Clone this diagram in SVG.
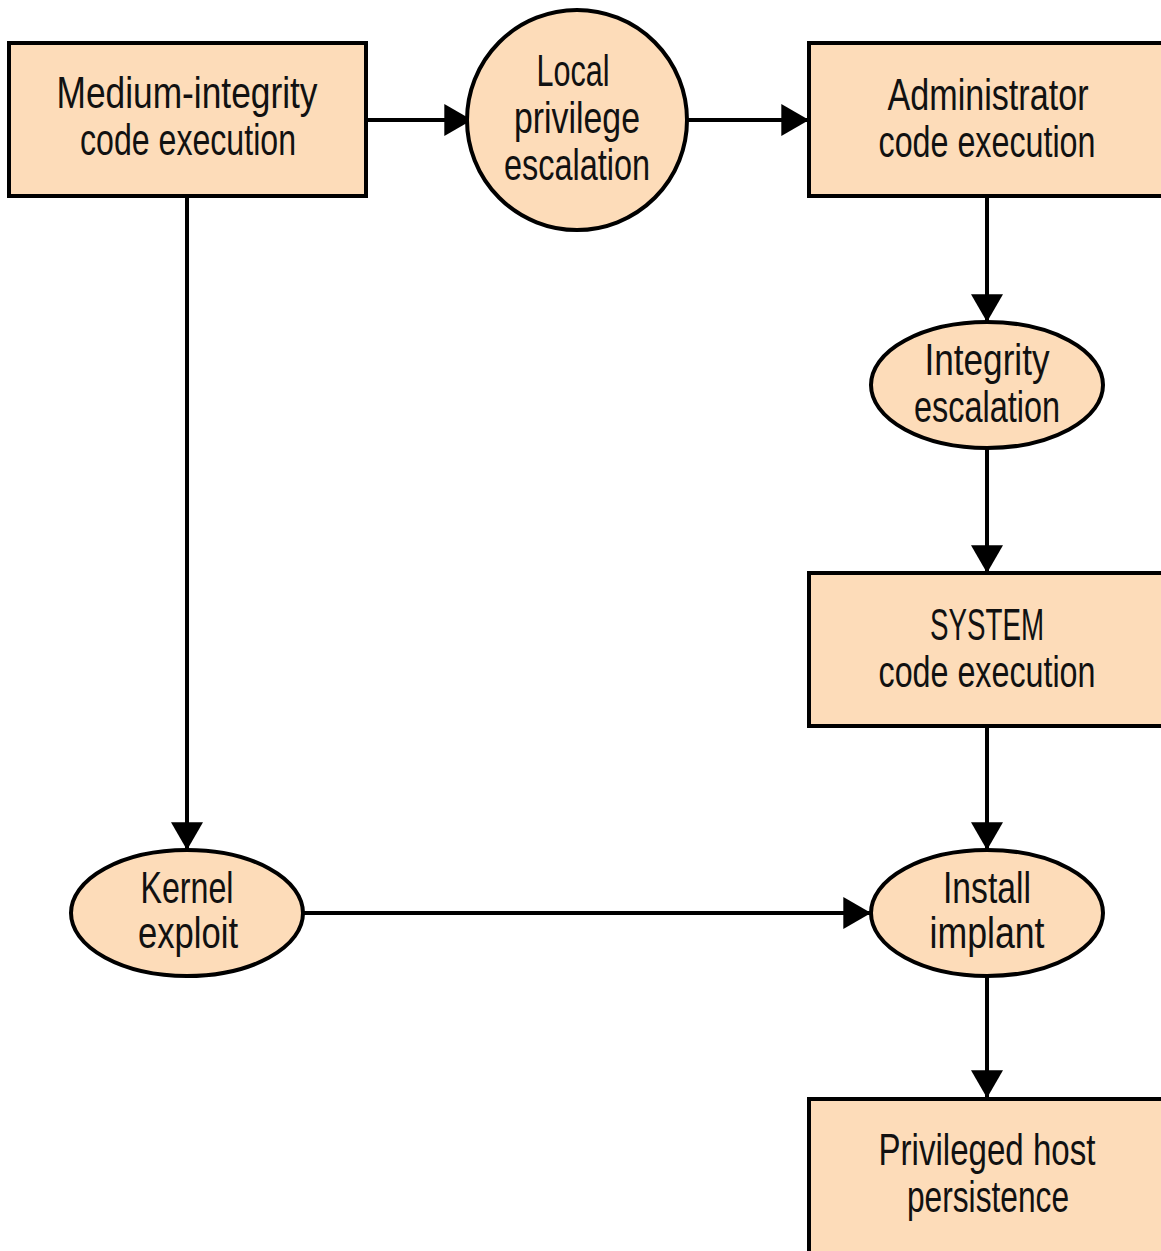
<svg xmlns="http://www.w3.org/2000/svg" width="1161" height="1251" viewBox="0 0 1161 1251">
<style>
.n{fill:#fddcb9;stroke:#000;stroke-width:4}
.t{font-family:"Liberation Sans",Arial,sans-serif;font-size:44px;fill:#111;text-anchor:middle}
.c{stroke:#000;stroke-width:4;fill:none}
</style>
<defs>
<marker id="ah" markerUnits="userSpaceOnUse" markerWidth="30" markerHeight="32" viewBox="0 0 26 30" refX="25" refY="15" orient="auto">
<path d="M0,0 L26,15 L0,30 Z" fill="#000"/>
</marker>
</defs>
<g id="connectors">
<line class="c" x1="366" y1="120" x2="471" y2="120" marker-end="url(#ah)"/>
<line class="c" x1="688" y1="120" x2="808" y2="120" marker-end="url(#ah)"/>
<line class="c" x1="987" y1="196" x2="987" y2="321" marker-end="url(#ah)"/>
<line class="c" x1="987" y1="448" x2="987" y2="572" marker-end="url(#ah)"/>
<line class="c" x1="987" y1="726" x2="987" y2="849" marker-end="url(#ah)"/>
<line class="c" x1="187" y1="196" x2="187" y2="849" marker-end="url(#ah)"/>
<line class="c" x1="303" y1="913" x2="870" y2="913" marker-end="url(#ah)"/>
<line class="c" x1="987" y1="976" x2="987" y2="1097" marker-end="url(#ah)"/>
</g>
<g id="medium">
<rect class="n" x="9" y="43" width="357" height="153"/>
<text class="t" x="187" y="108" textLength="261" lengthAdjust="spacingAndGlyphs">Medium-integrity</text>
<text class="t" x="188" y="155" textLength="216" lengthAdjust="spacingAndGlyphs">code execution</text>
</g>
<g id="lpe">
<circle class="n" cx="577" cy="120" r="110"/>
<text class="t" x="573" y="86" textLength="73" lengthAdjust="spacingAndGlyphs">Local</text>
<text class="t" x="577" y="133" textLength="126" lengthAdjust="spacingAndGlyphs">privilege</text>
<text class="t" x="577" y="180" textLength="146" lengthAdjust="spacingAndGlyphs">escalation</text>
</g>
<g id="admin">
<rect class="n" x="809" y="43" width="354" height="153"/>
<text class="t" x="988" y="110" textLength="201" lengthAdjust="spacingAndGlyphs">Administrator</text>
<text class="t" x="987" y="157" textLength="217" lengthAdjust="spacingAndGlyphs">code execution</text>
</g>
<g id="integrity">
<ellipse class="n" cx="987" cy="385" rx="116" ry="63"/>
<text class="t" x="987" y="375" textLength="125" lengthAdjust="spacingAndGlyphs">Integrity</text>
<text class="t" x="987" y="422" textLength="146" lengthAdjust="spacingAndGlyphs">escalation</text>
</g>
<g id="system">
<rect class="n" x="809" y="573" width="354" height="153"/>
<text class="t" x="987" y="640" textLength="114" lengthAdjust="spacingAndGlyphs">SYSTEM</text>
<text class="t" x="987" y="687" textLength="217" lengthAdjust="spacingAndGlyphs">code execution</text>
</g>
<g id="kernel">
<ellipse class="n" cx="187" cy="913" rx="116" ry="63"/>
<text class="t" x="187" y="903" textLength="93" lengthAdjust="spacingAndGlyphs">Kernel</text>
<text class="t" x="188" y="948" textLength="100" lengthAdjust="spacingAndGlyphs">exploit</text>
</g>
<g id="install">
<ellipse class="n" cx="987" cy="913" rx="116" ry="63"/>
<text class="t" x="987" y="903" textLength="88" lengthAdjust="spacingAndGlyphs">Install</text>
<text class="t" x="987" y="948" textLength="115" lengthAdjust="spacingAndGlyphs">implant</text>
</g>
<g id="persistence">
<rect class="n" x="809" y="1099" width="354" height="154"/>
<text class="t" x="987" y="1165" textLength="217" lengthAdjust="spacingAndGlyphs">Privileged host</text>
<text class="t" x="988" y="1212" textLength="162" lengthAdjust="spacingAndGlyphs">persistence</text>
</g>
</svg>
